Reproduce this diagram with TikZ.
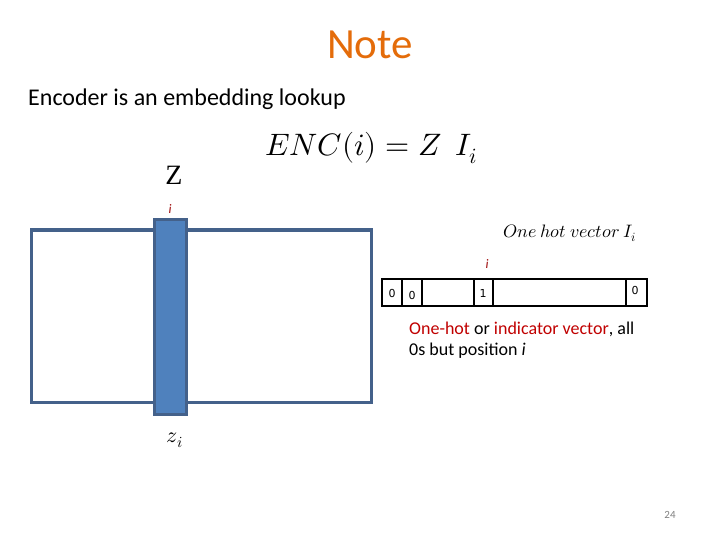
\documentclass[tikz,border=0pt]{standalone}
\usepackage{amsmath}
\usepackage{fontspec}
\usepackage{unicode-math}
\setmainfont{Carlito}
\setmathfont{Latin Modern Math}
\newfontfamily\serifz{Liberation Serif}
\newfontfamily\cellfont{DejaVu Sans}
\usepackage{tikz}
\usepackage{xcolor}
\definecolor{titleorange}{HTML}{E46C0A}
\definecolor{boxblue}{HTML}{44618A}
\definecolor{colblue}{HTML}{4F81BD}
\definecolor{hotred}{HTML}{C00000}
\tikzset{
    plain-text/.style = {inner sep=0pt, anchor=base west},
    matrix-box/.style = {draw=boxblue, line width=3pt},
    column-box/.style = {draw=boxblue, fill=colblue, line width=3pt},
    cell-box/.style = {draw=black, line width=1.5pt},
    cell-label/.style = {inner sep=0pt, font=\cellfont\fontsize{11}{13}\selectfont},
    index-label/.style = {inner sep=0pt, text=hotred!80!black, font=\fontsize{13}{15}\selectfont\itshape},
}

\begin{document}
\begin{tikzpicture}[x=1pt, y=-1pt]
\useasboundingbox (0,0) rectangle (720,540);
\node[inner sep=0pt, text=titleorange, font=\fontsize{43}{48}\selectfont] (title) at (370,45) {Note};
\node[plain-text, font=\fontsize{24}{28}\selectfont] (intro) at (28,106) {Encoder is an embedding lookup};
\node[inner sep=0pt, font=\fontsize{31}{34}\selectfont] (enc) at (371,148) {$ENC(i) = Z\;\, I_i$};
\node[inner sep=0pt, font=\serifz\fontsize{28}{32}\selectfont] (zname) at (174,175) {Z};
\node[index-label] (zidx) at (170,209) {i};

% embedding matrix and its column
\draw[matrix-box] (31,230) rectangle (371,402);
\draw[column-box] (154,220) rectangle (186,414);
\node[inner sep=0pt, font=\fontsize{22}{26}\selectfont] (zcol) at (175,440) {$z_i$};

% one hot vector
\node[inner sep=0pt, font=\fontsize{18}{21}\selectfont] (vtitle) at (570,233) {$One\ hot\ vector\ I_i$};
\node[index-label] (vidx) at (487,264) {i};
\draw[cell-box] (382,279) rectangle (647,306);
\foreach \x in {402,422,474,493,626} {
    \draw[cell-box] (\x,279) -- (\x,306);
}
\node[cell-label] (c1) at (392,293) {0};
\node[cell-label] (c2) at (412,295) {0};
\node[cell-label] (c3) at (483,293) {1};
\node[cell-label] (c4) at (635,290) {0};

\node[plain-text, font=\fontsize{18}{21}\selectfont, align=left] (note) at (409,355)
    {\textcolor{hotred}{One-hot} or \textcolor{hotred}{indicator vector}, all\\0s but position \textit{i}};
\node[inner sep=0pt, text=gray, font=\fontsize{11}{13}\selectfont] (page) at (670,515) {24};
\end{tikzpicture}
\end{document}
